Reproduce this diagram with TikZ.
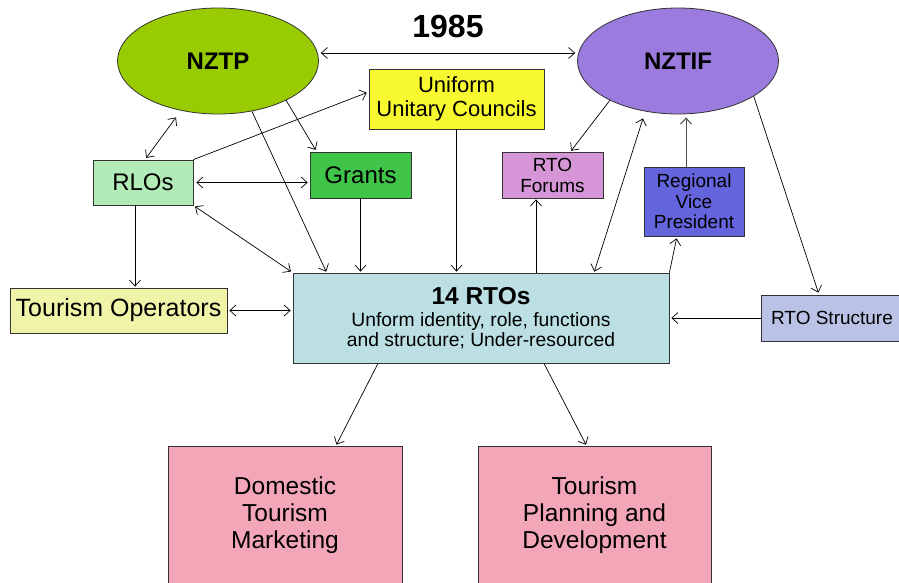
\documentclass[tikz,border=0pt]{standalone}
\usepackage{fontspec}
\setmainfont{Liberation Sans}
\usetikzlibrary{shapes.geometric,arrows.meta}
\definecolor{nztpfill}{RGB}{153,204,0}
\definecolor{nztiffill}{RGB}{155,123,221}
\definecolor{councilfill}{RGB}{248,248,48}
\definecolor{rlofill}{RGB}{179,235,184}
\definecolor{grantfill}{RGB}{64,196,74}
\definecolor{forumfill}{RGB}{214,149,214}
\definecolor{vpfill}{RGB}{100,100,220}
\definecolor{operatorfill}{RGB}{240,244,168}
\definecolor{rtofill}{RGB}{187,223,227}
\definecolor{structfill}{RGB}{186,195,230}
\definecolor{pinkfill}{RGB}{244,166,185}
\tikzset{
	box/.style={draw=black!80, line width=0.8pt, align=center, inner sep=0pt},
	oval/.style={ellipse, draw=black!80, line width=0.8pt, inner sep=0pt, minimum width=201pt, minimum height=106pt, font=\fontsize{24}{28}\selectfont\bfseries},
	link/.style={line width=0.7pt, -{Straight Barb[length=6pt,width=11pt]}},
	twolink/.style={line width=0.7pt, {Straight Barb[length=6pt,width=11pt]}-{Straight Barb[length=6pt,width=11pt]}}
}

\begin{document}
\begin{tikzpicture}[x=1pt,y=-1pt]
	\useasboundingbox (0,0) rectangle (899,582);
	\node[oval, fill=nztpfill] (nztp) at (218,61) {NZTP};
	\node[oval, fill=nztiffill] (nztif) at (678,61) {NZTIF};
	\node[font=\fontsize{32}{36}\selectfont\bfseries] (year) at (448,26) {1985};
	\node[box, fill=councilfill, minimum width=175pt, minimum height=60pt, font=\fontsize{22}{24}\selectfont] (councils) at (456.5,99) {Uniform\\Unitary Councils};
	\node[box, fill=rlofill, minimum width=100pt, minimum height=45pt, font=\fontsize{24}{28}\selectfont] (rlos) at (143,182.5) {RLOs};
	\node[box, fill=grantfill, minimum width=101pt, minimum height=46pt, font=\fontsize{24}{28}\selectfont] (grants) at (360.5,175) {Grants};
	\node[box, fill=forumfill, minimum width=101pt, minimum height=46pt, font=\fontsize{19}{21}\selectfont] (forums) at (552.5,175) {RTO\\Forums};
	\node[box, fill=vpfill, minimum width=100pt, minimum height=69pt, font=\fontsize{19}{20.5}\selectfont] (vp) at (694,201.5) {Regional\\Vice\\President};
	\node[box, fill=operatorfill, minimum width=217pt, minimum height=45pt, font=\fontsize{25}{28}\selectfont] (operators) at (118.5,310.5) {Tourism Operators};
	\node[box, fill=rtofill, minimum width=376pt, minimum height=90pt, font=\fontsize{19.3}{20}\selectfont] (rtos) at (481,318) {{\fontsize{24.5}{26}\selectfont\bfseries 14 RTOs}\\[2pt]Unform identity, role, functions\\and structure; Under-resourced};
	\node[box, fill=structfill, minimum width=142pt, minimum height=46pt, font=\fontsize{19}{21}\selectfont] (structure) at (832,318) {RTO Structure};
	\node[box, fill=pinkfill, minimum width=234pt, minimum height=138pt, font=\fontsize{24.5}{27}\selectfont] (marketing) at (285,515) {Domestic\\Tourism\\Marketing};
	\node[box, fill=pinkfill, minimum width=233pt, minimum height=138pt, font=\fontsize{24.5}{27}\selectfont] (planning) at (594.5,515) {Tourism\\Planning and\\Development};

	\draw[twolink, shorten <=2pt, shorten >=2pt] ([yshift=8pt]nztp.east) -- ([yshift=8pt]nztif.west);
	\draw[twolink, shorten <=2pt] ([xshift=2pt]rlos.north) -- ([xshift=-42pt,yshift=-3pt]nztp.south);
	\draw[link, shorten >=2pt] (rlos.north east) -- ([yshift=7pt]councils.west);
	\draw[twolink, shorten <=3pt, shorten >=2pt] (rlos.east) -- (rlos.east -| grants.west);
	\draw[twolink, shorten <=2pt, shorten >=2pt] (rlos.south east) -- (rtos.north west);
	\draw[link, shorten >=2pt] (nztp.-30) -- ([xshift=7pt]grants.north west);
	\draw[link, shorten >=1pt] (nztp.-56) -- ([xshift=34pt]rtos.north west);
	\draw[link, shorten >=1pt] (grants.south) -- (grants.south |- rtos.north);
	\draw[link, shorten >=1pt] (councils.south) -- (councils.south |- rtos.north);
	\draw[link, shorten >=1pt] ([xshift=-8pt]rlos.south) -- ([xshift=-8pt]rlos.south |- operators.north);
	\draw[twolink, shorten <=2pt, shorten >=2pt] (operators.east) -- (operators.east -| rtos.west);
	\draw[link, shorten >=1pt] ([xshift=55pt]rtos.north) -- ([xshift=55pt]rtos.north |- forums.south);
	\draw[twolink, shorten <=1pt] ([xshift=113pt]rtos.north) -- ([xshift=-35pt,yshift=-4pt]nztif.south);
	\draw[link, draw=black!70, line width=1pt, shorten >=3pt] ([xshift=-8pt]vp.north) -- ([xshift=-8pt]vp.north |- nztif.south);
	\draw[link, shorten >=2pt] (rtos.north east) -- ([xshift=-17pt]vp.south);
	\draw[link, shorten >=1pt] (nztif.210) -- ([xshift=18pt]forums.north);
	\draw[link, shorten >=2pt] (nztif.-25) -- ([xshift=-13pt]structure.north);
	\draw[link, shorten >=2pt] (structure.west) -- (rtos.east);
	\draw[link, shorten >=1pt] ([xshift=-103pt]rtos.south) -- ([xshift=51pt]marketing.north);
	\draw[link, shorten >=1pt] ([xshift=63pt]rtos.south) -- ([xshift=-8pt]planning.north);
\end{tikzpicture}
\end{document}
